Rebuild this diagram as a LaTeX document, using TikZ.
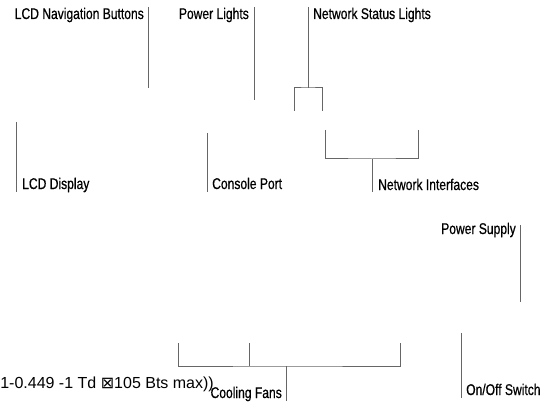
\documentclass[tikz,border=0pt]{standalone}
\usepackage{fontspec}
\setmainfont{Liberation Sans}[FakeStretch=0.78,FakeBold=0.6]
\newfontfamily\strayfont{Liberation Sans}
\newfontfamily\boxfont{DejaVu Sans}
\usetikzlibrary{positioning}

\tikzset{
  leader/.style={draw=black!60, line width=1pt},
  partlabel/.style={inner sep=0pt, font=\fontsize{15.5}{18}\selectfont},
}

\begin{document}
\begin{tikzpicture}[x=1pt,y=-1pt]
\useasboundingbox (0,0) rectangle (556,406);

% leader ends
\coordinate (navtop)  at (148,7);
\coordinate (navbot)  at (148,88);
\coordinate (pwltop)  at (254,7);
\coordinate (pwlbot)  at (254,100);
\coordinate (nsltop)  at (308,7);
\coordinate (nsljoin) at (308,88);
\coordinate (nslA)    at (294,111);
\coordinate (nslB)    at (322,111);
\coordinate (lcdtop)  at (16,122);
\coordinate (lcdbot)  at (16,192);
\coordinate (contop)  at (207,133);
\coordinate (conbot)  at (207,192);
\coordinate (nifA)    at (325,130);
\coordinate (nifB)    at (418,130);
\coordinate (nifjoin) at (372,159);
\coordinate (nifbot)  at (372,192);
\coordinate (psutop)  at (520,225);
\coordinate (psubot)  at (520,302);
\coordinate (swtop)   at (461,333);
\coordinate (swbot)   at (461,398);
\coordinate (fanA)    at (178,343);
\coordinate (fanB)    at (249,343);
\coordinate (fanC)    at (400,343);
\coordinate (fanjoin) at (286,366);
\coordinate (fanbot)  at (286,401);

% labels
\node[partlabel, anchor=base east] (navbtn) at (144,19) {LCD Navigation Buttons};
\node[partlabel, anchor=base east] (pwrlights) at (249,19) {Power Lights};
\node[partlabel, anchor=base west] (netstatus) at (313,19) {Network Status Lights};
\node[partlabel, anchor=base west] (lcddisp) at (22,189) {LCD Display};
\node[partlabel, anchor=base west] (console) at (212,189) {Console Port};
\node[partlabel, anchor=base west] (netif) at (378,190) {Network Interfaces};
\node[partlabel, anchor=base east] (psu) at (516,234) {Power Supply};
\node[partlabel, anchor=base west] (onoff) at (466,395) {On/Off Switch};
\node[partlabel, anchor=base east] (fans) at (282,398) {Cooling Fans};
\node[inner sep=0pt, anchor=base east, font=\strayfont\fontsize{16}{19}\selectfont]
  (stray) at (214,388) {1-0.449 -1 Td {\boxfont ⊠}105 Bts max))};

% single leaders
\draw[leader] (navtop) -- (navbot);
\draw[leader] (pwltop) -- (pwlbot);
\draw[leader] (lcdtop) -- (lcdbot);
\draw[leader] (contop) -- (conbot);
\draw[leader] (psutop) -- (psubot);
\draw[leader] (swtop) -- (swbot);

% brackets
\draw[leader] (nsltop) -- (nsljoin);
\draw[leader] (nslA) |- (nsljoin) -| (nslB);
\draw[leader] (nifA) |- (nifjoin) -| (nifB);
\draw[leader] (nifjoin) -- (nifbot);
\draw[leader] (fanA) |- (fanjoin) -| (fanC);
\draw[leader] (fanB) -- (fanB |- fanjoin);
\draw[leader] (fanjoin) -- (fanbot);

\end{tikzpicture}
\end{document}
